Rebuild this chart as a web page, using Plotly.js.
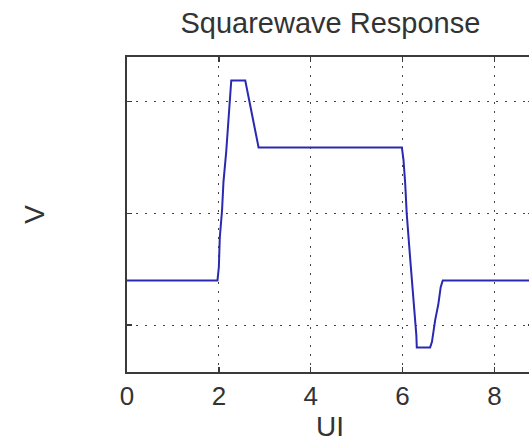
<!DOCTYPE html>
<html>
<head>
<meta charset="utf-8">
<script src="https://cdn.plot.ly/plotly-3.0.1.min.js"></script>
<style>
html,body{margin:0;padding:0;overflow:hidden;background:#fff;}
#chart{width:560px;height:442px;}
</style>
</head>
<body>
<div id="chart"></div>
<script>
// Data (UI vs V)
const timeUI = [0, 1.97, 2.0, 2.02, 2.07, 2.10, 2.16, 2.19, 2.24, 2.27, 2.575, 2.865, 5.985, 6.02, 6.057, 6.09, 6.165, 6.215, 6.27, 6.30, 6.31, 6.60, 6.64, 6.71, 6.78, 6.83, 6.875, 8.84];
const voltage = [-0.6, -0.6, -0.48, -0.22, 0.03, 0.28, 0.55, 0.75, 1.06, 1.19, 1.19, 0.59, 0.59, 0.48, 0.27, 0.0, -0.40, -0.66, -0.87, -1.09, -1.2, -1.2, -1.15, -0.955, -0.81, -0.66, -0.6, -0.6];
const xTicks = [0, 2, 4, 6, 8];
const yTicks = [-1, 0, 1];

const fontFam = 'Liberation Sans, Arial, sans-serif';
const txtColor = '#333';
const axisCommon = {
  showline: true, mirror: 'ticks', linecolor: '#3a3a3a', linewidth: 2,
  ticks: 'inside', ticklen: 5, tickwidth: 1.5, tickcolor: '#3a3a3a',
  showgrid: true, gridcolor: '#444', gridwidth: 1, griddash: '2px,7px',
  zeroline: false
};

const trace = {
  x: timeUI, y: voltage, type: 'scatter', mode: 'lines',
  line: {color: '#2a2ab0', width: 2}, hoverinfo: 'skip'
};

const layout = {
  width: 560, height: 442,
  margin: {l: 127, r: 27, t: 57, b: 70},
  paper_bgcolor: '#fff', plot_bgcolor: '#fff',
  showlegend: false,
  font: {family: fontFam, color: txtColor},
  title: {text: 'Squarewave Response', font: {size: 29, family: fontFam, color: txtColor},
          x: 0.59, xanchor: 'center', xref: 'container', y: 0.948, yanchor: 'middle', yref: 'container'},
  xaxis: Object.assign({}, axisCommon, {
    range: [0, 8.84], tickvals: xTicks, ticktext: xTicks.map(String),
    tickfont: {size: 26, family: fontFam, color: txtColor},
    title: {text: 'UI', font: {size: 28, family: fontFam, color: txtColor}, standoff: 6},
    automargin: false
  }),
  yaxis: Object.assign({}, axisCommon, {
    range: [-1.42, 1.4], tickvals: yTicks, showticklabels: false,
    title: {text: 'V', font: {size: 28, family: fontFam, color: txtColor}, standoff: 72},
    automargin: false
  })
};

Plotly.newPlot('chart', [trace], layout, {staticPlot: true, displayModeBar: false});
</script>
</body>
</html>
